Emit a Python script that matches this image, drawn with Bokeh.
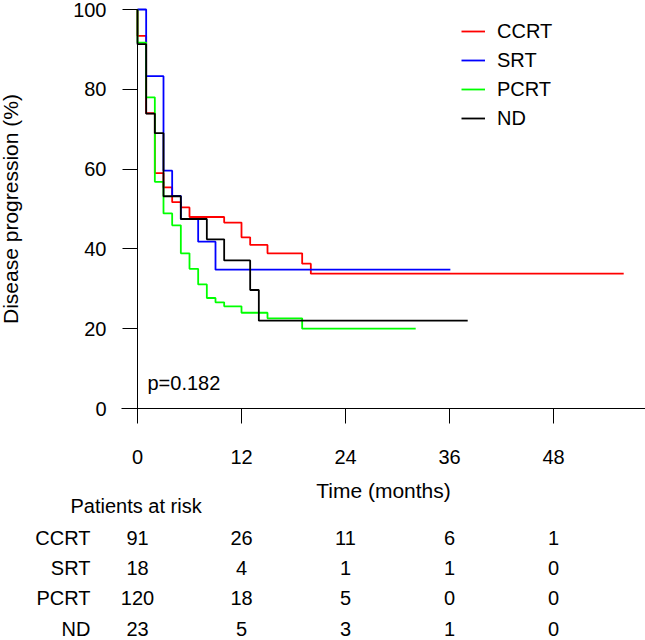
from bokeh.plotting import figure
from bokeh.models import Range1d, FixedTicker, Legend, LegendItem, Label
from bokeh.embed import file_html
from bokeh.resources import INLINE
from bokeh.core.properties import value

# ---------------- data ----------------
groups = ["CCRT", "SRT", "PCRT", "ND"]
colors = ["#ff0000", "#0000ff", "#00ff00", "#000000"]

ccrt_times = [0, 1, 2, 3, 4, 5, 6, 10, 12, 13, 15, 19, 20]
ccrt_surv = [93.4, 74.0, 59.0, 55.4, 51.7, 50.4, 48.0, 46.6, 42.9, 41.0, 38.9, 36.3, 33.8]
ccrt_end = 56.1

srt_times = [1, 3, 4, 5, 7, 9]
srt_surv = [83.3, 59.6, 53.3, 47.5, 41.8, 34.8]
srt_end = 36.1

pcrt_times = [0, 1, 2, 3, 4, 5, 6, 7, 8, 9, 10, 12, 15, 19]
pcrt_surv = [91.7, 78.0, 56.8, 48.9, 45.9, 38.9, 35.0, 31.1, 27.7, 26.6, 25.6, 24.0, 22.6, 20.0]
pcrt_end = 32.1

nd_times = [0, 1, 2, 3, 5, 8, 10, 13, 14]
nd_surv = [91.3, 73.9, 69.0, 53.2, 47.5, 42.4, 37.1, 29.7, 22.0]
nd_end = 38.1

x_ticks = [0, 12, 24, 36, 48]
y_ticks = [0, 20, 40, 60, 80, 100]

risk_times = [0, 12, 24, 36, 48]
risk_ccrt = [91, 26, 11, 6, 1]
risk_srt = [18, 4, 1, 1, 0]
risk_pcrt = [120, 18, 5, 0, 0]
risk_nd = [23, 5, 3, 1, 0]

p_value_text = "p=0.182"

FONT = "Liberation Sans"
FS = "20px"

curves = [
    (ccrt_times, ccrt_surv, ccrt_end),
    (srt_times, srt_surv, srt_end),
    (pcrt_times, pcrt_surv, pcrt_end),
    (nd_times, nd_surv, nd_end),
]
risks = [risk_ccrt, risk_srt, risk_pcrt, risk_nd]

# ---------------- layout geometry (pixels) ----------------
W, H = 645, 640
X0_PX, PX_PER_MONTH = 137, 104 / 12      # x = 0 at 137 px
Y0_PX, PX_PER_PCT = 408, 399 / 100       # y = 0 at 408 px

def xd(px):
    return (px - X0_PX) / PX_PER_MONTH

def yd(py):
    return (Y0_PX - py) / PX_PER_PCT

p = figure(width=W, height=H,
           x_range=Range1d(xd(0), xd(W)), y_range=Range1d(yd(H), yd(0)),
           min_border=0, output_backend="svg", toolbar_location=None)
p.outline_line_color = None
p.xgrid.visible = False
p.ygrid.visible = False

items = []
for g, c, (t, s, e) in zip(groups, colors, curves):
    xs = [0] + t + [e]
    ys = [100] + s + [s[-1]]
    r = p.step(xs, ys, mode="after", line_color=c, line_width=1.8)
    items.append(LegendItem(label=g, renderers=[r]))

for ax in (p.xaxis[0], p.yaxis[0]):
    ax.fixed_location = 0
    ax.axis_line_color = "black"
    ax.major_tick_line_color = "black"
    ax.minor_tick_line_color = None
    ax.major_tick_in = 0
    ax.major_tick_out = 15
    ax.major_label_text_font = FONT
    ax.major_label_text_font_size = FS
    ax.major_label_text_color = "black"
    ax.axis_label_text_font = FONT
    ax.axis_label_text_font_size = "21px"
    ax.axis_label_text_font_style = "normal"
    ax.axis_label_text_color = "black"

p.xaxis.ticker = FixedTicker(ticks=x_ticks)
p.yaxis.ticker = FixedTicker(ticks=y_ticks)
p.xaxis.bounds = (xd(121), xd(W))
p.yaxis.bounds = (0, 100)
p.xaxis.axis_label = "Time (months)"
p.yaxis.axis_label = "Disease progression (%)"
p.xaxis.major_label_standoff = 26
p.xaxis.axis_label_standoff = 12
p.yaxis.major_label_standoff = 16
p.yaxis.axis_label_standoff = 48

legend = Legend(items=items, location=(461, H - 129.5), border_line_color=None,
                background_fill_alpha=0, padding=0, margin=0, spacing=6,
                glyph_width=24, glyph_height=20, label_height=20,
                label_standoff=12, label_text_font=FONT,
                label_text_font_size=FS, label_text_color="black")
p.add_layout(legend)

p.add_layout(Label(x=xd(147), y=yd(382), text=p_value_text, text_font=FONT,
                   text_font_size=FS, text_baseline="middle",
                   text_color="black"))

# ---------------- risk table ----------------
row_py = [537, 567, 597, 628]
p.text(x=[xd(70)], y=[yd(505)], text=["Patients at risk"],
       text_align="left", text_baseline="middle",
       text_font=value(FONT), text_font_size=FS, text_color="black")

for py, counts in zip(row_py, risks):
    p.text(x=risk_times, y=[yd(py)] * len(risk_times),
           text=[str(v) for v in counts],
           text_align="center", text_baseline="middle",
           text_font=value(FONT), text_font_size=FS, text_color="black")

p.text(x=[xd(90)] * len(groups), y=[yd(py) for py in row_py], text=groups,
       text_align="right", text_baseline="middle",
       text_font=value(FONT), text_font_size=FS, text_color="black")

open("out.html", "w").write(file_html(p, INLINE))
